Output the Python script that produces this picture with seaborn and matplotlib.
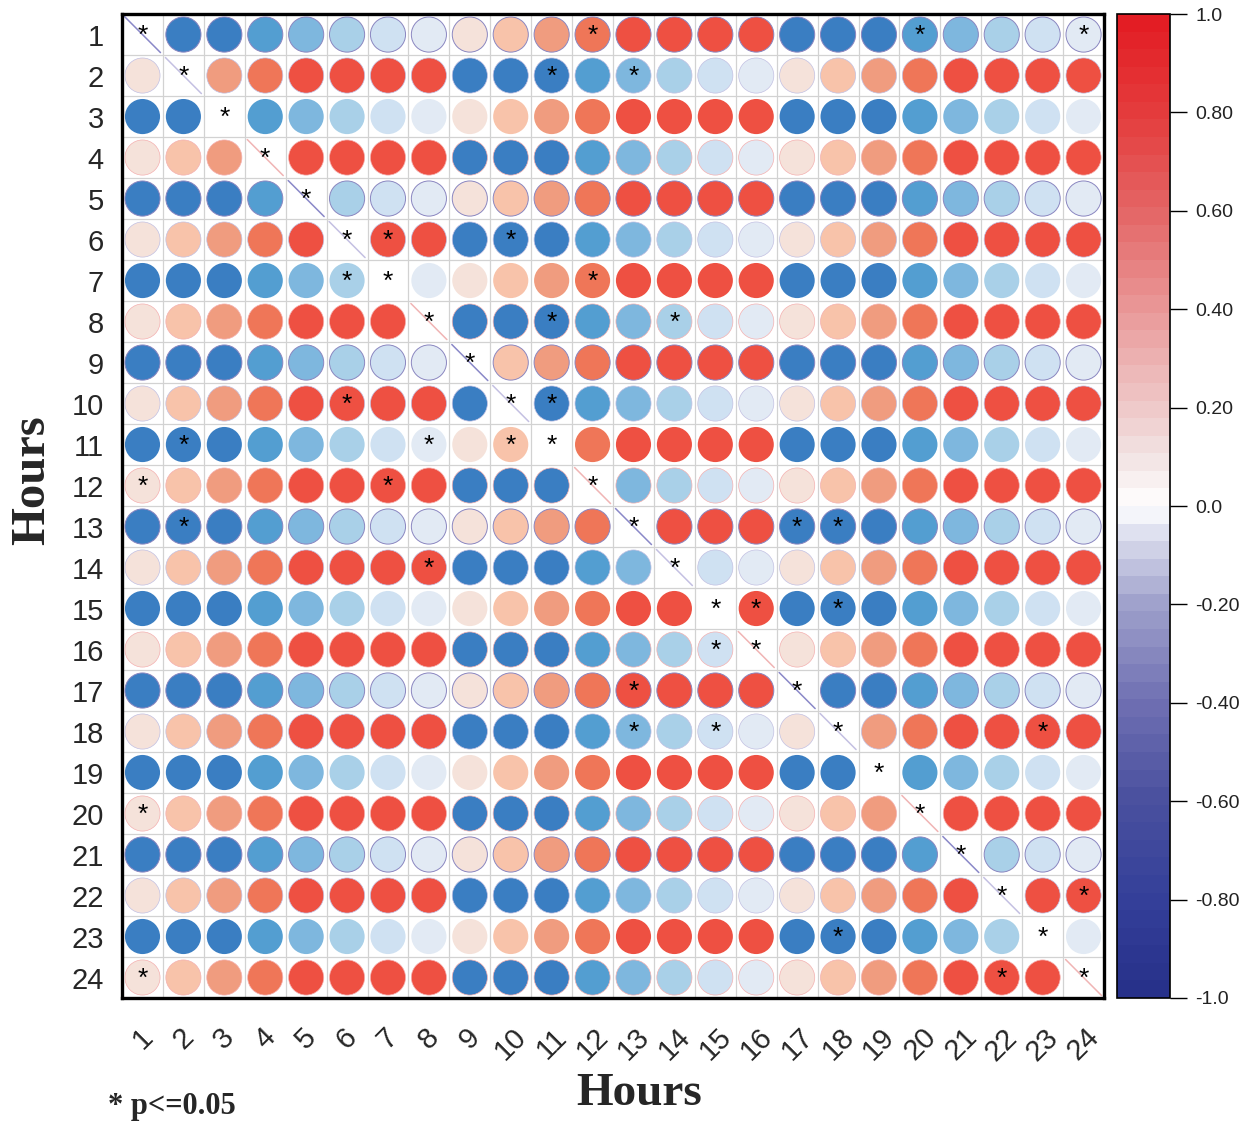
import numpy as np
import pandas as pd
import matplotlib
matplotlib.use("Agg")
import matplotlib.pyplot as plt
from matplotlib.colors import LinearSegmentedColormap, Normalize
from matplotlib.cm import ScalarMappable
import seaborn as sns

hours = list(range(1, 25))

# Hour-to-hour correlation coefficients, one list per row (hour 1 at the top)
h01 = [1.00, -.80, -.80, -.65, -.50, -.35, -.20, -.05, .10, .25, .40, .55, .80, .80, .80, .80, -.80, -.80, -.80, -.65, -.50, -.35, -.20, -.05]
h02 = [.10, 1.00, .40, .55, .80, .80, .80, .80, -.80, -.80, -.80, -.65, -.50, -.35, -.20, -.05, .10, .25, .40, .55, .80, .80, .80, .80]
h03 = [-.80, -.80, 1.00, -.65, -.50, -.35, -.20, -.05, .10, .25, .40, .55, .80, .80, .80, .80, -.80, -.80, -.80, -.65, -.50, -.35, -.20, -.05]
h04 = [.10, .25, .40, 1.00, .80, .80, .80, .80, -.80, -.80, -.80, -.65, -.50, -.35, -.20, -.05, .10, .25, .40, .55, .80, .80, .80, .80]
h05 = [-.80, -.80, -.80, -.65, 1.00, -.35, -.20, -.05, .10, .25, .40, .55, .80, .80, .80, .80, -.80, -.80, -.80, -.65, -.50, -.35, -.20, -.05]
h06 = [.10, .25, .40, .55, .80, 1.00, .80, .80, -.80, -.80, -.80, -.65, -.50, -.35, -.20, -.05, .10, .25, .40, .55, .80, .80, .80, .80]
h07 = [-.80, -.80, -.80, -.65, -.50, -.35, 1.00, -.05, .10, .25, .40, .55, .80, .80, .80, .80, -.80, -.80, -.80, -.65, -.50, -.35, -.20, -.05]
h08 = [.10, .25, .40, .55, .80, .80, .80, 1.00, -.80, -.80, -.80, -.65, -.50, -.35, -.20, -.05, .10, .25, .40, .55, .80, .80, .80, .80]
h09 = [-.80, -.80, -.80, -.65, -.50, -.35, -.20, -.05, 1.00, .25, .40, .55, .80, .80, .80, .80, -.80, -.80, -.80, -.65, -.50, -.35, -.20, -.05]
h10 = [.10, .25, .40, .55, .80, .80, .80, .80, -.80, 1.00, -.80, -.65, -.50, -.35, -.20, -.05, .10, .25, .40, .55, .80, .80, .80, .80]
h11 = [-.80, -.80, -.80, -.65, -.50, -.35, -.20, -.05, .10, .25, 1.00, .55, .80, .80, .80, .80, -.80, -.80, -.80, -.65, -.50, -.35, -.20, -.05]
h12 = [.10, .25, .40, .55, .80, .80, .80, .80, -.80, -.80, -.80, 1.00, -.50, -.35, -.20, -.05, .10, .25, .40, .55, .80, .80, .80, .80]
h13 = [-.80, -.80, -.80, -.65, -.50, -.35, -.20, -.05, .10, .25, .40, .55, 1.00, .80, .80, .80, -.80, -.80, -.80, -.65, -.50, -.35, -.20, -.05]
h14 = [.10, .25, .40, .55, .80, .80, .80, .80, -.80, -.80, -.80, -.65, -.50, 1.00, -.20, -.05, .10, .25, .40, .55, .80, .80, .80, .80]
h15 = [-.80, -.80, -.80, -.65, -.50, -.35, -.20, -.05, .10, .25, .40, .55, .80, .80, 1.00, .80, -.80, -.80, -.80, -.65, -.50, -.35, -.20, -.05]
h16 = [.10, .25, .40, .55, .80, .80, .80, .80, -.80, -.80, -.80, -.65, -.50, -.35, -.20, 1.00, .10, .25, .40, .55, .80, .80, .80, .80]
h17 = [-.80, -.80, -.80, -.65, -.50, -.35, -.20, -.05, .10, .25, .40, .55, .80, .80, .80, .80, 1.00, -.80, -.80, -.65, -.50, -.35, -.20, -.05]
h18 = [.10, .25, .40, .55, .80, .80, .80, .80, -.80, -.80, -.80, -.65, -.50, -.35, -.20, -.05, .10, 1.00, .40, .55, .80, .80, .80, .80]
h19 = [-.80, -.80, -.80, -.65, -.50, -.35, -.20, -.05, .10, .25, .40, .55, .80, .80, .80, .80, -.80, -.80, 1.00, -.65, -.50, -.35, -.20, -.05]
h20 = [.10, .25, .40, .55, .80, .80, .80, .80, -.80, -.80, -.80, -.65, -.50, -.35, -.20, -.05, .10, .25, .40, 1.00, .80, .80, .80, .80]
h21 = [-.80, -.80, -.80, -.65, -.50, -.35, -.20, -.05, .10, .25, .40, .55, .80, .80, .80, .80, -.80, -.80, -.80, -.65, 1.00, -.35, -.20, -.05]
h22 = [.10, .25, .40, .55, .80, .80, .80, .80, -.80, -.80, -.80, -.65, -.50, -.35, -.20, -.05, .10, .25, .40, .55, .80, 1.00, .80, .80]
h23 = [-.80, -.80, -.80, -.65, -.50, -.35, -.20, -.05, .10, .25, .40, .55, .80, .80, .80, .80, -.80, -.80, -.80, -.65, -.50, -.35, 1.00, -.05]
h24 = [.10, .25, .40, .55, .80, .80, .80, .80, -.80, -.80, -.80, -.65, -.50, -.35, -.20, -.05, .10, .25, .40, .55, .80, .80, .80, 1.00]

# Cells with p <= 0.05 as (row hour, column hour)
significant = [
    (1, 1), (1, 12), (1, 20), (1, 24),
    (2, 2), (2, 11), (2, 13),
    (3, 3), (4, 4), (5, 5),
    (6, 6), (6, 7), (6, 10),
    (7, 6), (7, 7), (7, 12),
    (8, 8), (8, 11), (8, 14),
    (9, 9),
    (10, 6), (10, 10), (10, 11),
    (11, 2), (11, 8), (11, 10), (11, 11),
    (12, 1), (12, 7), (12, 12),
    (13, 2), (13, 13), (13, 17), (13, 18),
    (14, 8), (14, 14),
    (15, 15), (15, 16), (15, 18),
    (16, 15), (16, 16),
    (17, 13), (17, 17),
    (18, 13), (18, 15), (18, 18), (18, 23),
    (19, 19), (20, 1), (20, 20), (21, 21),
    (22, 22), (22, 24),
    (23, 18), (23, 23),
    (24, 1), (24, 22), (24, 24),
]

colorbar_ticks = [1.0, 0.8, 0.6, 0.4, 0.2, 0.0, -0.2, -0.4, -0.6, -0.8, -1.0]
colorbar_labels = ["1.0", "0.80", "0.60", "0.40", "0.20", "0.0",
                   "-0.20", "-0.40", "-0.60", "-0.80", "-1.0"]

corr = np.array([h01, h02, h03, h04, h05, h06, h07, h08, h09, h10, h11, h12,
                 h13, h14, h15, h16, h17, h18, h19, h20, h21, h22, h23, h24])

# Long-form table of the off-diagonal cells
records = []
for i, rh in enumerate(hours):
    for j, ch in enumerate(hours):
        if i != j:
            records.append({"row": rh, "col": ch, "r": corr[i, j], "band": rh % 4})
cells = pd.DataFrame(records)

# Colour scale of the circles
circle_cmap = LinearSegmentedColormap.from_list("circles", [
    (0.000, "#2f6fb5"), (0.100, "#3a7ec2"), (0.175, "#549fd2"),
    (0.250, "#7db7de"), (0.325, "#a9d0e8"), (0.400, "#cfe1f2"),
    (0.475, "#e2eaf4"), (0.550, "#f5e2da"), (0.625, "#f8c4ab"),
    (0.700, "#f09d80"), (0.775, "#ef7658"), (0.900, "#ee5042"),
    (1.000, "#e8402f")])

# Colour scale of the legend bar
bar_cmap = LinearSegmentedColormap.from_list("bar", [
    (0.00, "#27318a"), (0.10, "#35409a"), (0.20, "#4b519f"),
    (0.30, "#7070b3"), (0.40, "#a0a2cc"), (0.47, "#dcdeee"),
    (0.50, "#ffffff"), (0.55, "#f2e4e4"), (0.60, "#efcaca"),
    (0.70, "#e99a9a"), (0.80, "#e46868"), (0.90, "#e43e3e"),
    (1.00, "#e31d24")], N=56)

norm = Normalize(-1, 1)
serif = ["Liberation Serif", "DejaVu Serif"]

sns.set_style("white")
plt.rcParams["font.family"] = ["Liberation Sans", "DejaVu Sans"]

fig = plt.figure(figsize=(12.58, 11.24), dpi=100)
ax = fig.add_axes([0.097, 0.1121, 0.7806, 0.8754])

# outline style of circles per row group
outline = {1: ("#8a86c0", 0.7), 2: ("#c2c0e2", 0.5), 3: ("none", 0.0), 0: ("#f4b0b0", 0.5)}
for band, (ec, lw) in outline.items():
    sub = cells[cells["band"] == band]
    sns.scatterplot(data=sub, x="col", y="row", hue="r", palette=circle_cmap,
                    hue_norm=norm, s=640, marker="o", edgecolor=ec,
                    linewidth=lw, legend=False, ax=ax, zorder=3)

# diagonal cells: a thin slanted line
diag_color = {1: "#8a88c8", 2: "#c4c0e2", 0: "#f0b4b4"}
for h in hours:
    c = diag_color.get(h % 4)
    if c is not None:
        ax.plot([h - 0.44, h + 0.44], [h - 0.44, h + 0.44], color=c, lw=1.1, zorder=2)

# significance marks
for rh, ch in significant:
    ax.text(ch, rh + 0.2, "*", ha="center", va="baseline", fontsize=19,
            color="black", zorder=5)

ax.set_xlim(0.5, 24.5)
ax.set_ylim(24.5, 0.5)
ax.set_xticks(hours)
ax.set_yticks(hours)
ax.set_xticks(np.arange(0.5, 25, 1), minor=True)
ax.set_yticks(np.arange(0.5, 25, 1), minor=True)
ax.grid(which="minor", color="#d2d2d2", lw=0.9, zorder=0)
ax.grid(which="major", visible=False)
ax.set_axisbelow(True)
ax.tick_params(which="both", length=0)
ax.tick_params(axis="y", labelsize=21, pad=13)
ax.tick_params(axis="x", labelsize=21, pad=18)
ax.set_xticklabels([str(h) for h in hours], rotation=45, ha="center", va="top")
ax.set_yticklabels([str(h) for h in hours])
for s in ax.spines.values():
    s.set_visible(True)
    s.set_color("black")
    s.set_linewidth(2.4)

ax.set_xlabel("Hours", fontsize=34, fontweight="bold", family=serif)
ax.set_ylabel("Hours", fontsize=35, fontweight="bold", family=serif)
ax.xaxis.set_label_coords(0.527, -0.076)
ax.yaxis.set_label_coords(-0.092, 0.526)
ax.yaxis.label.set_va("center")

fig.text(0.086, 0.003, "* p<=0.05", fontsize=22, fontweight="bold",
         family=serif, ha="left", va="bottom")

# legend bar
cax = fig.add_axes([0.888, 0.1121, 0.0421, 0.8754])
cb = fig.colorbar(ScalarMappable(norm=norm, cmap=bar_cmap), cax=cax)
cb.set_ticks(colorbar_ticks)
cb.set_ticklabels(colorbar_labels)
cb.outline.set_linewidth(1.2)
cb.outline.set_edgecolor("black")
cax.tick_params(length=12, width=1.0, labelsize=14, pad=6, color="black",
                labelcolor="#222222")

fig.savefig("out.png", dpi=100)
